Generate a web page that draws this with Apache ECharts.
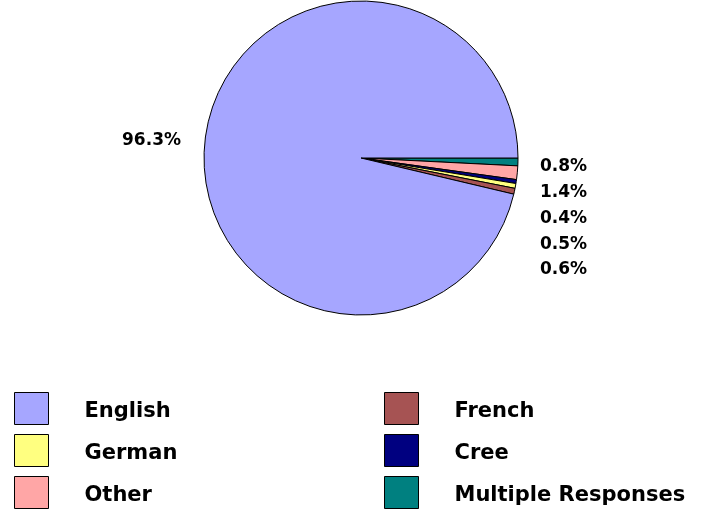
<!DOCTYPE html>
<html>
<head>
<meta charset="utf-8">
<script src="https://cdn.jsdelivr.net/npm/echarts@6/dist/echarts.min.js"></script>
<style>html,body{margin:0;padding:0;background:#fff}#c{width:706px;height:510px}</style>
</head>
<body>
<div id="c"></div>
<script>
// Slices in clockwise order starting at 3 o'clock
var categories = ['Multiple Responses', 'Other', 'Cree', 'German', 'French', 'English'];
var values = [0.8, 1.4, 0.4, 0.5, 0.6, 96.3];
var colors = ['#008080', '#FFA6A6', '#000080', '#FFFF80', '#A65353', '#A6A6FF'];
var legendLeft = ['English', 'German', 'Other'];
var legendRight = ['French', 'Cree', 'Multiple Responses'];

var chart = echarts.init(document.getElementById('c'), null, {renderer: 'canvas'});
var FONT = 'DejaVu Sans';
var data = categories.map(function (c, i) {
  return {name: c, value: values[i], itemStyle: {color: colors[i]}};
});
function legend(items, left) {
  return {
    orient: 'vertical',
    left: left,
    top: 392,
    height: 118,
    padding: 0,
    data: items,
    icon: 'rect',
    itemWidth: 34,
    itemHeight: 32,
    itemGap: 9,
    selectedMode: false,
    itemStyle: {borderColor: '#000', borderWidth: 1},
    formatter: '{t|{name}}',
    textStyle: {
      fontFamily: FONT, fontWeight: 'bold', fontSize: 21, color: '#000',
      rich: {t: {fontFamily: FONT, fontWeight: 'bold', fontSize: 21, color: '#000', padding: [7, 0, 0, 31]}}
    }
  };
}
chart.setOption({
  animation: false,
  backgroundColor: '#fff',
  legend: [legend(legendLeft, 14), legend(legendRight, 384)],
  series: [{
    type: 'pie',
    center: [361, 158],
    radius: 157,
    startAngle: 0,
    clockwise: true,
    avoidLabelOverlap: false,
    silent: true,
    data: data,
    itemStyle: {borderColor: '#000', borderWidth: 1},
    label: {
      show: true,
      position: 'outside',
      formatter: function (p) { return p.value.toFixed(1) + '%'; },
      fontFamily: FONT,
      fontWeight: 'bold',
      fontSize: 17,
      color: '#000'
    },
    labelLine: {show: false},
    labelLayout: function (p) {
      var n = categories.length;
      if (p.dataIndex < n - 1) {
        return {x: 540, y: 167 + p.dataIndex * 25.7, align: 'left', verticalAlign: 'middle'};
      }
      return {x: 181, y: 141, align: 'right', verticalAlign: 'middle'};
    }
  }]
});
</script>
</body>
</html>
